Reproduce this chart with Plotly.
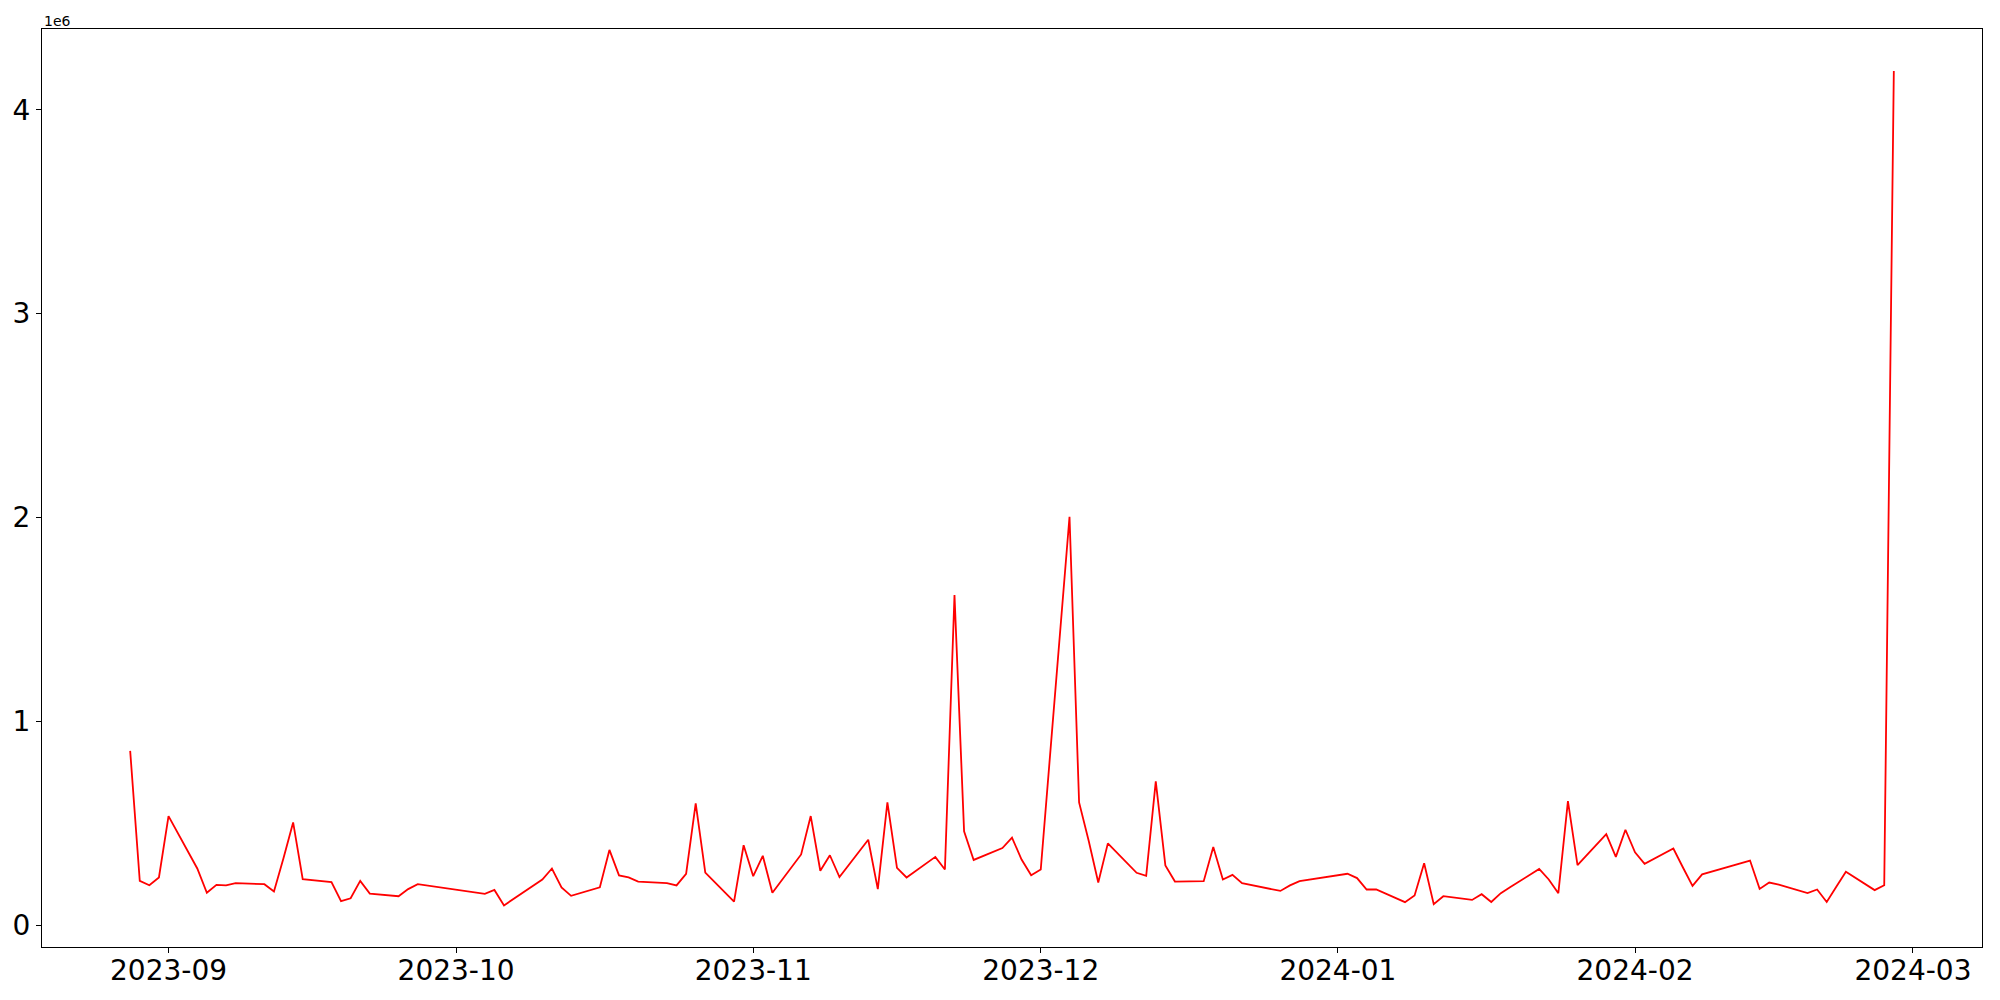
import plotly.graph_objects as go

# trading days (Korean market calendar) and daily values
dates = [
    "2023-08-28", "2023-08-29", "2023-08-30", "2023-08-31", "2023-09-01",
    "2023-09-04", "2023-09-05", "2023-09-06", "2023-09-07", "2023-09-08",
    "2023-09-11", "2023-09-12", "2023-09-13", "2023-09-14", "2023-09-15",
    "2023-09-18", "2023-09-19", "2023-09-20", "2023-09-21", "2023-09-22",
    "2023-09-25", "2023-09-26", "2023-09-27",
    "2023-10-04", "2023-10-05", "2023-10-06",
    "2023-10-10", "2023-10-11", "2023-10-12", "2023-10-13",
    "2023-10-16", "2023-10-17", "2023-10-18", "2023-10-19", "2023-10-20",
    "2023-10-23", "2023-10-24", "2023-10-25", "2023-10-26", "2023-10-27",
    "2023-10-30", "2023-10-31", "2023-11-01", "2023-11-02", "2023-11-03",
    "2023-11-06", "2023-11-07", "2023-11-08", "2023-11-09", "2023-11-10",
    "2023-11-13", "2023-11-14", "2023-11-15", "2023-11-16", "2023-11-17",
    "2023-11-20", "2023-11-21", "2023-11-22", "2023-11-23", "2023-11-24",
    "2023-11-27", "2023-11-28", "2023-11-29", "2023-11-30", "2023-12-01",
    "2023-12-04", "2023-12-05", "2023-12-06", "2023-12-07", "2023-12-08",
    "2023-12-11", "2023-12-12", "2023-12-13", "2023-12-14", "2023-12-15",
    "2023-12-18", "2023-12-19", "2023-12-20", "2023-12-21", "2023-12-22",
    "2023-12-26", "2023-12-27", "2023-12-28",
    "2024-01-02", "2024-01-03", "2024-01-04", "2024-01-05",
    "2024-01-08", "2024-01-09", "2024-01-10", "2024-01-11", "2024-01-12",
    "2024-01-15", "2024-01-16", "2024-01-17", "2024-01-18", "2024-01-19",
    "2024-01-22", "2024-01-23", "2024-01-24", "2024-01-25", "2024-01-26",
    "2024-01-29", "2024-01-30", "2024-01-31", "2024-02-01", "2024-02-02",
    "2024-02-05", "2024-02-06", "2024-02-07", "2024-02-08",
    "2024-02-13", "2024-02-14", "2024-02-15", "2024-02-16",
    "2024-02-19", "2024-02-20", "2024-02-21", "2024-02-22", "2024-02-23",
    "2024-02-26", "2024-02-27", "2024-02-28",
]

values = [
    856000, 218000, 197000, 235000, 536000,
    279000, 160000, 199000, 196000, 207000,
    202000, 166000, 330000, 505000, 227000,
    212000, 119000, 133000, 218000, 156000,
    143000, 178000, 202000,
    155000, 174000, 98000,
    225000, 279000, 186000, 145000,
    187000, 370000, 245000, 235000, 215000,
    207000, 196000, 253000, 598000, 259000,
    117000, 393000, 241000, 341000, 160000,
    348000, 536000, 268000, 344000, 237000,
    420000, 178000, 603000, 282000, 235000,
    336000, 274000, 1620000, 461000, 321000,
    379000, 430000, 323000, 246000, 274000,
    2004000, 603000, 415000, 210000, 402000,
    258000, 243000, 706000, 294000, 215000,
    217000, 384000, 225000, 248000, 207000,
    169000, 196000, 217000,
    253000, 232000, 176000, 176000,
    114000, 147000, 305000, 104000, 143000,
    125000, 153000, 115000, 158000, 188000,
    277000, 225000, 158000, 609000, 295000,
    447000, 336000, 469000, 358000, 302000,
    377000, 284000, 194000, 250000,
    318000, 179000, 210000, 200000,
    158000, 176000, 115000, 189000, 263000,
    173000, 197000, 4190000,
]

y_ticks = [0, 1e6, 2e6, 3e6, 4e6]
y_tick_labels = ["0", "1", "2", "3", "4"]

fig = go.Figure()
fig.add_trace(go.Scatter(
    x=dates, y=values, mode="lines",
    line=dict(color="red", width=1.8),
    showlegend=False,
))

fig.update_layout(
    width=2000, height=1000,
    margin=dict(l=42, r=18, t=29, b=53),
    paper_bgcolor="white", plot_bgcolor="white",
    font=dict(family="DejaVu Sans", size=28, color="black"),
    annotations=[dict(
        text="1e6", x=0, y=1, xref="paper", yref="paper",
        xanchor="left", yanchor="bottom", yshift=-2,
        showarrow=False, font=dict(size=14, family="DejaVu Sans"),
    )],
)

fig.update_xaxes(
    type="date",
    range=["2023-08-18 19:12", "2024-03-08 04:48"],
    tick0="2023-09-01", dtick="M1", tickformat="%Y-%m",
    ticks="outside", ticklen=5, tickwidth=1, tickcolor="black",
    ticklabelstandoff=-7,
    showline=True, linewidth=1, linecolor="black", mirror=True,
    showgrid=False, zeroline=False, automargin=False,
)
fig.update_yaxes(
    range=[-0.106e6, 4.396e6],
    tickvals=y_ticks, ticktext=y_tick_labels,
    ticks="outside", ticklen=5, tickwidth=1, tickcolor="black",
    showline=True, linewidth=1, linecolor="black", mirror=True,
    showgrid=False, zeroline=False, automargin=False,
)

fig.write_html(
    "out.html",
    config={"displayModeBar": False},
    post_script="document.body.style.margin='0';",
)
